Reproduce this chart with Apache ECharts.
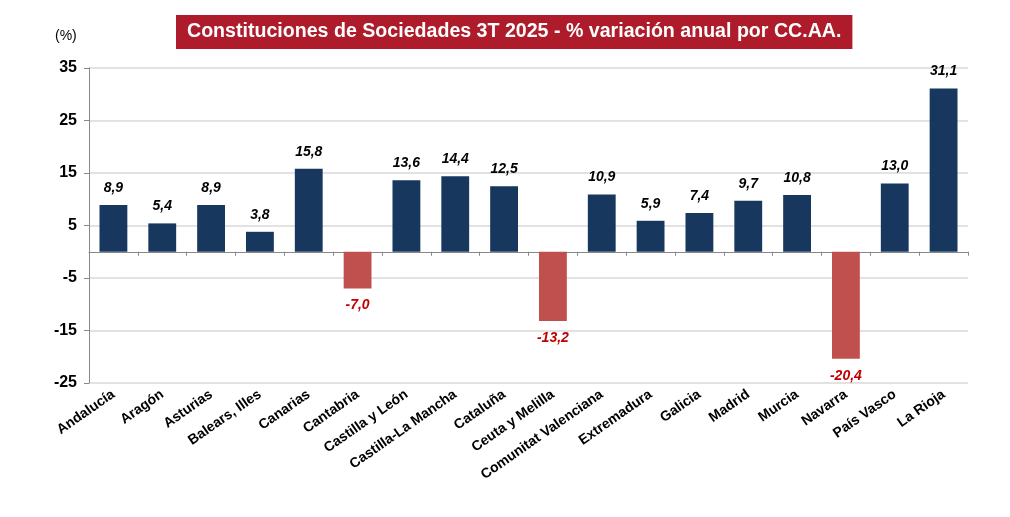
<!DOCTYPE html>
<html><head><meta charset="utf-8">
<script src="https://cdn.jsdelivr.net/npm/echarts@6/dist/echarts.min.js"></script>
<style>html,body{margin:0;padding:0;background:#fff}#c{width:1010px;height:517px}</style>
</head><body><div id="c"></div>
<script>
const categories = ['Andalucía','Aragón','Asturias','Balears, Illes','Canarias','Cantabria','Castilla y León','Castilla-La Mancha','Cataluña','Ceuta y Melilla','Comunitat Valenciana','Extremadura','Galicia','Madrid','Murcia','Navarra','País Vasco','La Rioja'];
const values = [8.9,5.4,8.9,3.8,15.8,-7.0,13.6,14.4,12.5,-13.2,10.9,5.9,7.4,9.7,10.8,-20.4,13.0,31.1];
const yTicks = [-25,-15,-5,5,15,25,35];
const titleText = 'Constituciones de Sociedades 3T 2025 - % variación anual por CC.AA.';
const unitText = '(%)';

const FONT = '"Liberation Sans Narrow","Liberation Sans",Arial,sans-serif';
const chart = echarts.init(document.getElementById('c'), null, {renderer:'canvas'});
chart.setOption({
  animation:false,
  backgroundColor:'#fff',
  title:[{
    text:titleText, left:176, top:15,
    backgroundColor:'#AE1C2B', padding:[7,11,7,11],
    textStyle:{color:'#fff', fontFamily:FONT, fontWeight:'bold', fontSize:19.6}
  },{
    text:unitText, left:50, top:24,
    textStyle:{color:'#000', fontFamily:FONT, fontWeight:'normal', fontSize:14}
  }],
  grid:{left:89, right:42, top:68, bottom:134, containLabel:false},
  xAxis:[{
    type:'category', data:categories, position:'bottom',
    axisLine:{show:false, onZero:false}, axisTick:{show:false},
    axisLabel:{interval:0, rotate:35, color:'#000', fontFamily:FONT, fontWeight:'bold', fontSize:14, margin:10}
  },{
    type:'category', data:categories, position:'bottom',
    axisLine:{show:true, onZero:true, lineStyle:{color:'#888', width:1}},
    axisTick:{show:true, interval:0, length:4, inside:false, lineStyle:{color:'#888'}},
    axisLabel:{show:false, interval:0}
  }],
  yAxis:{
    type:'value', min:yTicks[0], max:yTicks[yTicks.length-1], interval:10,
    axisLine:{show:true, lineStyle:{color:'#888'}},
    axisTick:{show:true, length:5, lineStyle:{color:'#888'}},
    splitLine:{lineStyle:{color:'#d9d9d9', width:1.5}},
    axisLabel:{color:'#000', fontFamily:FONT, fontWeight:'bold', fontSize:16, margin:12}
  },
  series:[{
    type:'bar', xAxisIndex:0, barWidth:'57%',
    data: values.map(v => ({
      value:v,
      itemStyle:{color: v<0 ? '#C0504D' : '#17375E'},
      label:{
        show:true, position: v<0 ? 'bottom' : 'top', distance:10,
        color: v<0 ? '#C00000' : '#000',
        fontFamily:FONT, fontWeight:'bold', fontStyle:'italic', fontSize:14,
        formatter: () => v.toFixed(1).replace('.', ',')
      }
    }))
  }]
});
</script></body></html>
